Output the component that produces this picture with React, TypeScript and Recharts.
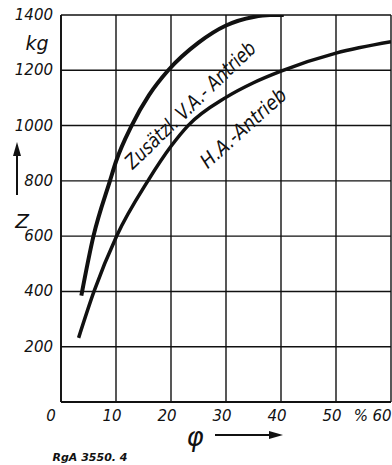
import { LineChart, Line, XAxis, YAxis, CartesianGrid } from 'recharts'

// φ in %, Z in kg
const X_TICKS = [0, 10, 20, 30, 40, 50, 60]
const Y_TICKS = [0, 200, 400, 600, 800, 1000, 1200, 1400]

// Zusätzl. V.A.-Antrieb
const VA_PHI = [3.7, 5.9, 8.9, 10, 12.85, 16, 19.5, 25, 30, 35, 38, 40.5]
const VA_Z = [385, 600, 800, 870, 1000, 1110, 1200, 1300, 1362, 1393, 1400, 1400]

// H.A.-Antrieb
const HA_PHI = [3.2, 6, 10.1, 15.8, 20, 23.1, 30, 35, 40, 50, 60]
const HA_Z = [232, 400, 600, 800, 925, 1000, 1102, 1155, 1197, 1262, 1303]

const vaData = VA_PHI.map((phi, i) => ({ phi, z: VA_Z[i] }))
const haData = HA_PHI.map((phi, i) => ({ phi, z: HA_Z[i] }))

const FONT = "'DejaVu Sans', 'Liberation Sans', sans-serif"

function XTick({ x, payload }: any) {
  const v = payload.value
  const dx = v === 0 ? -10 : v === 60 ? -9 : -4
  return (
    <text x={x + dx} y={421} textAnchor="middle" fontSize={15} fontStyle="italic" fontFamily={FONT} fill="#111">
      {v}
    </text>
  )
}

function YTick({ y, payload }: any) {
  if (payload.value === 0) return null
  return (
    <text x={53} y={y + 5} textAnchor="end" fontSize={15} fontStyle="italic" fontFamily={FONT} fill="#111">
      {payload.value}
    </text>
  )
}

export default function App() {
  return (
    <div style={{ position: 'relative', width: 392, height: 465, background: '#fff' }}>
      <style>{'body{margin:0}'}</style>
      <LineChart width={392} height={465} margin={{ top: 15, right: 1, bottom: 0, left: 0 }}>
        <CartesianGrid stroke="#111" strokeWidth={1.4} />
        <XAxis
          dataKey="phi"
          type="number"
          domain={[0, 60]}
          ticks={X_TICKS}
          allowDataOverflow
          height={63}
          tickLine={false}
          axisLine={{ stroke: '#111', strokeWidth: 1.8 }}
          tick={<XTick />}
          interval={0}
        />
        <YAxis
          type="number"
          domain={[0, 1400]}
          ticks={Y_TICKS}
          allowDataOverflow
          width={61}
          tickLine={false}
          axisLine={{ stroke: '#111', strokeWidth: 1.8 }}
          tick={<YTick />}
          interval={0}
        />
        <Line data={vaData} dataKey="z" type="monotone" stroke="#111" strokeWidth={4} dot={false} isAnimationActive={false} />
        <Line data={haData} dataKey="z" type="monotone" stroke="#111" strokeWidth={3.5} dot={false} isAnimationActive={false} />
      </LineChart>
      <svg width={392} height={465} style={{ position: 'absolute', left: 0, top: 0, pointerEvents: 'none' }}>
        <g fontFamily={FONT} fontStyle="italic" fill="#111">
          <text x={37} y={50} fontSize={19} textAnchor="middle">kg</text>
          <text x={22} y={228} fontSize={20} textAnchor="middle">Z</text>
          <text x={361} y={421} fontSize={15} textAnchor="middle">%</text>
          <text x={195} y={446} fontSize={26} textAnchor="middle">φ</text>
          <text x={90} y={461} fontSize={11} fontWeight="bold" textAnchor="middle">RgA 3550. 4</text>
          <text x={195} y={110} fontSize={20} textAnchor="middle" textLength={173} lengthAdjust="spacingAndGlyphs" transform="rotate(-44 195 110)">Zusätzl. V.A.- Antrieb</text>
          <text x={248} y={133} fontSize={20} textAnchor="middle" textLength={108} lengthAdjust="spacingAndGlyphs" transform="rotate(-42 248 133)">H.A.-Antrieb</text>
        </g>
        <line x1={17} y1={195} x2={17} y2={152} stroke="#111" strokeWidth={2} />
        <path d="M17 142 L13 156 L21 156 Z" fill="#111" />
        <line x1={215} y1={435} x2={272} y2={435} stroke="#111" strokeWidth={2} />
        <path d="M283 435 L269 431 L269 439 Z" fill="#111" />
      </svg>
    </div>
  )
}
